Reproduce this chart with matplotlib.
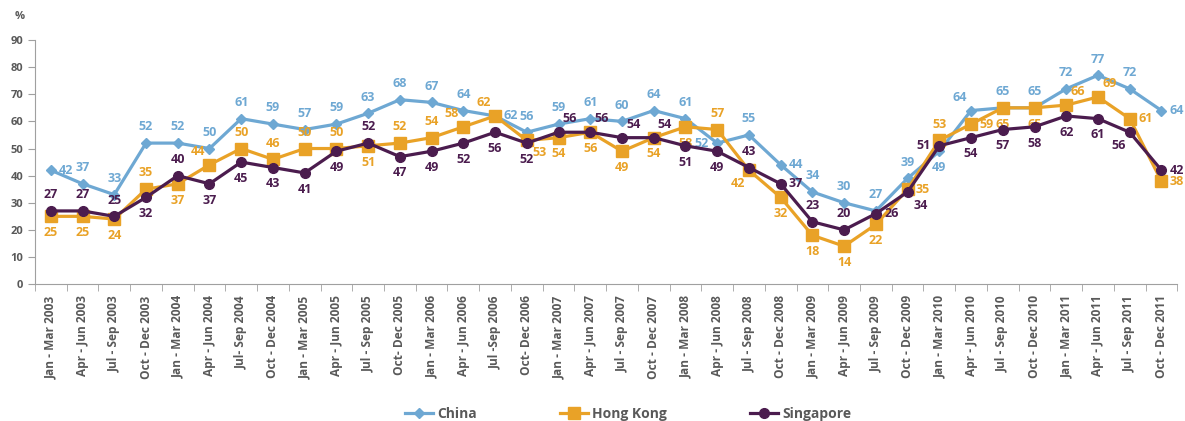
import matplotlib.pyplot as plt
from matplotlib.lines import Line2D

quarters = ['Jan - Mar 2003', 'Apr - Jun 2003', 'Jul - Sep 2003', 'Oct - Dec 2003',
            'Jan - Mar 2004', 'Apr - Jun 2004', 'Jul- Sep 2004', 'Oct - Dec 2004',
            'Jan - Mar 2005', 'Apr - Jun 2005', 'Jul - Sep 2005', 'Oct- Dec 2005',
            'Jan - Mar 2006', 'Apr - Jun 2006', 'Jul -Sep 2006', 'Oct- Dec 2006',
            'Jan - Mar 2007', 'Apr - Jun 2007', 'Jul - Sep 2007', 'Oct - Dec 2007',
            'Jan - Mar 2008', 'Apr - Jun 2008', 'Jul - Sep 2008', 'Oct - Dec 2008',
            'Jan - Mar 2009', 'Apr - Jun 2009', 'Jul - Sep 2009', 'Oct - Dec 2009',
            'Jan - Mar 2010', 'Apr - Jun 2010', 'Jul - Sep 2010', 'Oct - Dec 2010',
            'Jan - Mar 2011', 'Apr - Jun 2011', 'Jul - Sep 2011', 'Oct - Dec 2011']

china = [42, 37, 33, 52, 52, 50, 61, 59, 57, 59, 63, 68, 67, 64, 62, 56, 59, 61,
         60, 64, 61, 52, 55, 44, 34, 30, 27, 39, 49, 64, 65, 65, 72, 77, 72, 64]
hong_kong = [25, 25, 24, 35, 37, 44, 50, 46, 50, 50, 51, 52, 54, 58, 62, 53, 54, 56,
             49, 54, 58, 57, 42, 32, 18, 14, 22, 35, 53, 59, 65, 65, 66, 69, 61, 38]
singapore = [27, 27, 25, 32, 40, 37, 45, 43, 41, 49, 52, 47, 49, 52, 56, 52, 56, 56,
             54, 54, 51, 49, 43, 37, 23, 20, 26, 34, 51, 54, 57, 58, 62, 61, 56, 42]

# label placement per point (one code per quarter)
china_pos = ('r a a a  a a a a  a a a a  a a r a  a a a a  a l a r  '
             'a a a a  b al a a  a a a r').split()
hk_pos = ('b b b a  b al a a  a a b a  a al al rb  b b b b  b a bl b  '
          'b b b r  a r b b  ar ar r r').split()
sg_pos = ('a a a b  a b b b  b b a b  b b b b  ar ar ar ar  b b a r  '
          'a a r br  l b b b  b b bl r').split()

c_china = '#6ea8d3'
c_hk = '#e9a227'
c_sg = '#4b1c4e'

plt.rcParams['font.family'] = ['Open Sans', 'DejaVu Sans']

fig = plt.figure(figsize=(11.85, 4.21), dpi=100)
ax = fig.add_axes([0.0295, 0.325, 0.964, 0.58])

x = list(range(len(quarters)))
ax.plot(x, china, color=c_china, lw=2.3, marker='D', ms=5, zorder=3)
ax.plot(x, hong_kong, color=c_hk, lw=2.3, marker='s', ms=8, zorder=3)
ax.plot(x, singapore, color=c_sg, lw=2.3, marker='o', ms=7, zorder=4)

offs = {'a': (0, 7, 'center', 'bottom'), 'b': (0, -7, 'center', 'top'),
        'l': (-6, 0, 'right', 'center'), 'r': (6, 0, 'left', 'center'),
        'al': (-3, 5, 'right', 'bottom'), 'ar': (3, 5, 'left', 'bottom'),
        'bl': (-3, -5, 'right', 'top'), 'br': (4, -5, 'left', 'top'),
        'rb': (4, -4, 'left', 'top')}
for vals, pos, col in [(china, china_pos, c_china), (hong_kong, hk_pos, c_hk),
                       (singapore, sg_pos, c_sg)]:
    for i, v in enumerate(vals):
        dx, dy, ha, va = offs[pos[i]]
        ax.annotate(str(v), (i, v), xytext=(dx, dy), textcoords='offset points',
                    ha=ha, va=va, color=col, fontsize=9, fontweight='bold',
                    annotation_clip=False)

ax.set_xlim(-0.5, len(quarters) - 0.5)
ax.set_ylim(0, 90)
ax.set_yticks(range(0, 91, 10))
ax.set_xticks(x)
ax.set_xticklabels(quarters, rotation=90, fontsize=8.6, fontweight='bold', color='#595959')
ax.set_xticks([i - 0.5 for i in range(len(quarters) + 1)], minor=True)
ax.tick_params(axis='x', which='major', length=0, pad=8)
ax.tick_params(axis='x', which='minor', length=5, color='#a0a0a0', direction='out')
ax.tick_params(axis='y', labelsize=8, colors='#595959', length=5, color='#a0a0a0')
for lbl in ax.get_yticklabels():
    lbl.set_fontweight('bold')
for s in ['top', 'right']:
    ax.spines[s].set_visible(False)
for s in ['left', 'bottom']:
    ax.spines[s].set_color('#a0a0a0')
fig.text(0.012, 0.955, '%', fontsize=8, fontweight='bold', color='#595959')

handles = [Line2D([], [], color=c_china, lw=2.3, marker='D', ms=5),
           Line2D([], [], color=c_hk, lw=2.3, marker='s', ms=8),
           Line2D([], [], color=c_sg, lw=2.3, marker='o', ms=7)]
fig.legend(handles, ['China', 'Hong Kong', 'Singapore'], loc='lower center',
           bbox_to_anchor=(0.53, -0.03), ncol=3, frameon=False, handlelength=2.0,
           handletextpad=0.3, columnspacing=6,
           prop={'size': 10, 'weight': 'bold'}, labelcolor='#595959')

fig.savefig('out.png')
